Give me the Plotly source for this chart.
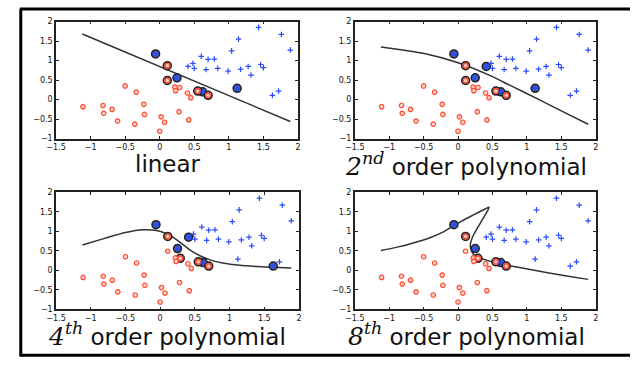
import plotly.graph_objects as go

# ---- data ----
red_x = [-1.11, -0.82, -0.81, -0.69, -0.61, -0.50, -0.34, -0.36, -0.23, -0.22, 0.02, 0.07, 0.00,
         0.22, 0.29, 0.23, 0.28, 0.40, 0.45, 0.42, 0.11, 0.11, 0.55, 0.70]
red_y = [-0.18, -0.15, -0.35, -0.25, -0.55, 0.35, 0.19, -0.63, -0.12, -0.38, -0.44, -0.58, -0.81,
         0.32, 0.31, 0.23, -0.31, 0.17, 0.05, -0.52, 0.87, 0.49, 0.22, 0.11]
blue_x = [-0.06, 0.25, 0.62, 1.12, 0.41, 0.48, 0.50, 0.60, 0.70, 0.79, 0.67, 0.84, 0.99, 1.04,
          1.14, 1.17, 1.28, 1.32, 1.43, 1.46, 1.50, 1.76, 1.89, 1.63, 1.72]
blue_y = [1.17, 0.56, 0.20, 0.29, 0.85, 0.93, 0.80, 1.11, 1.03, 1.04, 0.77, 0.80, 0.73, 1.25,
          1.55, 0.78, 0.85, 0.63, 1.85, 0.90, 0.82, 1.67, 1.27, 0.11, 0.22]

MATH = "<span style=\"font-family:'DejaVu Serif';font-size:25px\"><i>{}<sup>{}</sup></i></span>"
titles = ["linear",
          MATH.format("2", "nd") + " order polynomial",
          MATH.format("4", "th") + " order polynomial",
          MATH.format("8", "th") + " order polynomial"]

# support vectors per panel
sv_blue_x = [[-0.06, 0.25, 0.62, 1.12], [-0.06, 0.41, 0.25, 0.62, 1.12],
             [-0.06, 0.41, 0.25, 0.62, 1.63], [-0.06, 0.25, 0.62]]
sv_blue_y = [[1.17, 0.56, 0.20, 0.29], [1.17, 0.85, 0.56, 0.20, 0.29],
             [1.17, 0.85, 0.56, 0.20, 0.11], [1.17, 0.56, 0.20]]
sv_red_x = [[0.11, 0.11, 0.55, 0.70], [0.11, 0.11, 0.55, 0.70],
            [0.11, 0.29, 0.55, 0.70], [0.11, 0.29, 0.55, 0.70]]
sv_red_y = [[0.87, 0.49, 0.22, 0.11], [0.87, 0.49, 0.22, 0.11],
            [0.87, 0.31, 0.22, 0.11], [0.87, 0.31, 0.22, 0.11]]

# decision boundaries
bnd_x = [
    [-1.12, 1.89],
    [-1.12, -0.96, -0.49, -0.01, 0.46, 0.75, 1.2, 1.5, 1.89],
    [-1.12, -0.8, -0.5, -0.25, -0.05, 0.1, 0.22, 0.33, 0.45, 0.58, 0.72, 0.9, 1.15, 1.4, 1.62, 1.89],
    [-1.12, -0.9, -0.675, -0.39, -0.22, -0.06, 0.06, 0.18, 0.30, 0.40, 0.45,
     0.43, 0.38, 0.32, 0.26, 0.21, 0.18, 0.185, 0.22, 0.29, 0.40, 0.50, 0.62, 0.75, 1.03, 1.3,
     1.6, 1.89],
]
bnd_y = [
    [1.68, -0.56],
    [1.35, 1.31, 1.18, 0.95, 0.62, 0.37, -0.02, -0.29, -0.63],
    [0.65, 0.82, 0.97, 1.04, 1.02, 0.93, 0.81, 0.66, 0.50, 0.37, 0.27, 0.19, 0.13, 0.10, 0.08, 0.06],
    [0.51, 0.59, 0.69, 0.85, 0.98, 1.15, 1.27, 1.38, 1.49, 1.58, 1.62,
     1.53, 1.38, 1.20, 1.02, 0.85, 0.68, 0.55, 0.42, 0.33, 0.27, 0.22, 0.17, 0.12, 0.03, -0.06,
     -0.15, -0.23],
]

x_ticks = [-1.5, -1, -0.5, 0, 0.5, 1, 1.5, 2]
y_ticks = [-1, -0.5, 0, 0.5, 1, 1.5, 2]

W, H = 633, 372
# panel boxes in pixels: (left, right, top, bottom), title centre (x, y)
boxes = [(47, 294, 18, 138), (352, 598, 18, 138), (47, 295, 193, 313), (352, 598, 193, 313)]
title_pos = [(161, 164), (466, 164), (160, 339), (466, 339)]

RED = "#ff4a30"
RED_FILL = "#ffd2c8"
BLUE = "#2a4dff"

fig = go.Figure()
for i in range(4):
    xa = "x" if i == 0 else f"x{i+1}"
    ya = "y" if i == 0 else f"y{i+1}"
    fig.add_trace(go.Scatter(x=bnd_x[i], y=bnd_y[i], mode="lines", xaxis=xa, yaxis=ya,
                             line=dict(color="#333333", width=1.5, shape="spline", smoothing=0.6),
                             showlegend=False, hoverinfo="skip"))
    fig.add_trace(go.Scatter(x=sv_blue_x[i], y=sv_blue_y[i], mode="markers", xaxis=xa, yaxis=ya,
                             marker=dict(symbol="circle", size=8, color="#3a55c8",
                                         line=dict(color="#222222", width=1.5)),
                             showlegend=False))
    fig.add_trace(go.Scatter(x=sv_red_x[i], y=sv_red_y[i], mode="markers", xaxis=xa, yaxis=ya,
                             marker=dict(symbol="circle", size=8, color="#e86a58",
                                         line=dict(color="#222222", width=1.5)),
                             showlegend=False))
    fig.add_trace(go.Scatter(x=red_x, y=red_y, mode="markers", xaxis=xa, yaxis=ya,
                             marker=dict(symbol="circle", size=4.5, color=RED_FILL,
                                         line=dict(color=RED, width=1.2)),
                             showlegend=False))
    fig.add_trace(go.Scatter(x=blue_x, y=blue_y, mode="markers", xaxis=xa, yaxis=ya,
                             marker=dict(symbol="cross-thin-open", size=4, color=BLUE,
                                         line=dict(color=BLUE, width=1.2)),
                             showlegend=False))

    l, r, t, b = boxes[i]
    axis_common = dict(showgrid=False, zeroline=False, showline=True, linecolor="#222222",
                       linewidth=1.5, mirror="ticks", ticks="inside", ticklen=3,
                       tickcolor="#222222", tickfont=dict(size=8, color="#111111",
                                                          family="DejaVu Sans"))
    fig.layout[f"xaxis{'' if i == 0 else i+1}"] = dict(
        domain=[l / W, r / W], range=[-1.5, 2], anchor=ya, tickvals=x_ticks,
        ticktext=[("\u2212" if v < 0 else "") + f"{abs(v):g}" for v in x_ticks], **axis_common)
    fig.layout[f"yaxis{'' if i == 0 else i+1}"] = dict(
        domain=[1 - b / H, 1 - t / H], range=[-1, 2], anchor=xa, tickvals=y_ticks,
        ticktext=[("\u2212" if v < 0 else "") + f"{abs(v):g}" for v in y_ticks], **axis_common)

    cx, cy = title_pos[i]
    fig.add_annotation(text=titles[i], x=cx / W, y=1 - cy / H, xref="paper", yref="paper",
                       showarrow=False, xanchor="center", yanchor="middle",
                       font=dict(size=23, color="#111111", family="DejaVu Sans"))

# outer frame lines
fig.add_shape(type="line", xref="paper", yref="paper", x0=10 / W, x1=1, y0=1 - 5 / H, y1=1 - 5 / H,
              line=dict(color="black", width=3))
fig.add_shape(type="line", xref="paper", yref="paper", x0=11 / W, x1=11 / W, y0=1 - 5 / H,
              y1=1 - 361 / H, line=dict(color="black", width=3))
fig.add_shape(type="line", xref="paper", yref="paper", x0=10 / W, x1=1, y0=1 - 360 / H,
              y1=1 - 360 / H, line=dict(color="black", width=3))

fig.update_layout(width=W, height=H, margin=dict(l=0, r=0, t=0, b=0),
                  paper_bgcolor="white", plot_bgcolor="white", showlegend=False)

fig.write_html("out.html", config={"displayModeBar": False},
               post_script="document.body.style.margin='0';")
